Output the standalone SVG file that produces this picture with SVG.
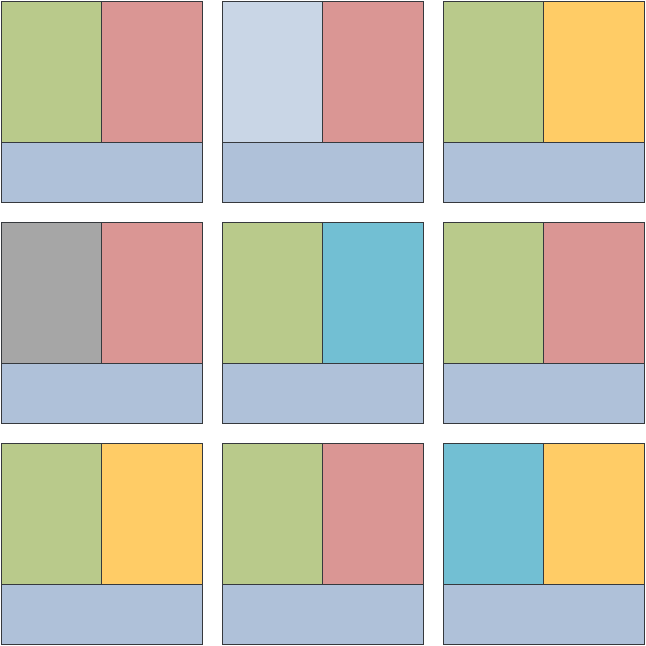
<svg xmlns="http://www.w3.org/2000/svg" width="646" height="646" viewBox="0 0 646 646">
<style>
rect{stroke:#36393d;stroke-width:1}
.g{fill:#b9ca8b}.r{fill:#da9694}.l{fill:#c9d6e6}.b{fill:#afc1d9}.y{fill:#ffcc66}.k{fill:#a6a6a6}.t{fill:#72bfd3}
</style>
<rect width="646" height="646" fill="#ffffff" style="stroke:none"/>
<defs>
<rect id="bot" x="0" y="141" width="201" height="60" class="b"/>
</defs>
<g id="tile1" transform="translate(1.5,1.5)"><rect x="0" y="0" width="100" height="141" class="g"/><rect x="100" y="0" width="101" height="141" class="r"/><use href="#bot"/></g>
<g id="tile2" transform="translate(222.5,1.5)"><rect x="0" y="0" width="100" height="141" class="l"/><rect x="100" y="0" width="101" height="141" class="r"/><use href="#bot"/></g>
<g id="tile3" transform="translate(443.5,1.5)"><rect x="0" y="0" width="100" height="141" class="g"/><rect x="100" y="0" width="101" height="141" class="y"/><use href="#bot"/></g>
<g id="tile4" transform="translate(1.5,222.5)"><rect x="0" y="0" width="100" height="141" class="k"/><rect x="100" y="0" width="101" height="141" class="r"/><use href="#bot"/></g>
<g id="tile5" transform="translate(222.5,222.5)"><rect x="0" y="0" width="100" height="141" class="g"/><rect x="100" y="0" width="101" height="141" class="t"/><use href="#bot"/></g>
<g id="tile6" transform="translate(443.5,222.5)"><rect x="0" y="0" width="100" height="141" class="g"/><rect x="100" y="0" width="101" height="141" class="r"/><use href="#bot"/></g>
<g id="tile7" transform="translate(1.5,443.5)"><rect x="0" y="0" width="100" height="141" class="g"/><rect x="100" y="0" width="101" height="141" class="y"/><use href="#bot"/></g>
<g id="tile8" transform="translate(222.5,443.5)"><rect x="0" y="0" width="100" height="141" class="g"/><rect x="100" y="0" width="101" height="141" class="r"/><use href="#bot"/></g>
<g id="tile9" transform="translate(443.5,443.5)"><rect x="0" y="0" width="100" height="141" class="t"/><rect x="100" y="0" width="101" height="141" class="y"/><use href="#bot"/></g>
<g id="connectors"/>
</svg>
